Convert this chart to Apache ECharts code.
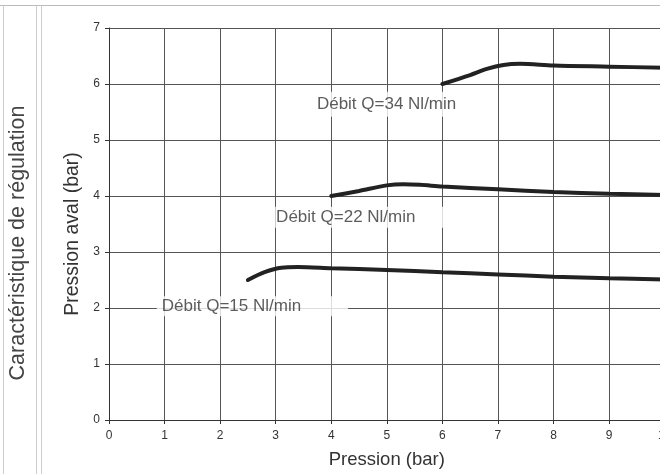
<!DOCTYPE html>
<html>
<head>
<meta charset="utf-8">
<script src="https://cdn.jsdelivr.net/npm/echarts@6/dist/echarts.min.js"></script>
<style>
  html, body { margin: 0; padding: 0; background: #fff; overflow: hidden; }
  #chart { width: 680px; height: 474px; }
</style>
</head>
<body>
<div id="chart"></div>
<script>
// Upstream pressure (bar) and regulated downstream pressure (bar) per flow rate
const q15Pressure = [2.5, 2.8, 3.1, 3.4, 4, 5, 6, 7, 8, 9, 10];
const q15Outlet   = [2.5, 2.64, 2.72, 2.73, 2.71, 2.68, 2.64, 2.6, 2.56, 2.53, 2.51];

const q22Pressure = [4, 4.5, 5, 5.3, 5.6, 6, 7, 8, 9, 10];
const q22Outlet   = [4.0, 4.09, 4.19, 4.21, 4.2, 4.17, 4.12, 4.07, 4.04, 4.02];

const q34Pressure = [6, 6.5, 6.8, 7.1, 7.4, 8, 9, 10];
const q34Outlet   = [6.0, 6.16, 6.27, 6.34, 6.36, 6.33, 6.31, 6.29];

const flowLabels = ['Débit Q=15 Nl/min', 'Débit Q=22 Nl/min', 'Débit Q=34 Nl/min'];

const xTicks = [0, 10, 1];   // min, max, step
const yTicks = [0, 7, 1];

const zip = (xs, ys) => xs.map((x, i) => [x, ys[i]]);

// where each flow caption box starts (data units) and its white box padding
const captionAnchors = [
  { at: [0.86, 2.03], pad: [2, 47, 1, 5] },
  { at: [2.99, 3.62], pad: [2, 56, 2, 1] },
  { at: [3.67, 5.64], pad: [4, 40, 4, 4] }
];

const chart = echarts.init(document.getElementById('chart'));

const curveStyle = { color: '#222', width: 4, cap: 'round' };
const curve = (data) => ({
  type: 'line', data, smooth: 0.3, showSymbol: false, symbol: 'none',
  lineStyle: curveStyle, z: 3, silent: true
});

const FONT = 'Liberation Sans';

chart.setOption({
  animation: false,
  backgroundColor: '#fff',
  grid: { left: 109, top: 28, right: 15.4, bottom: 52, containLabel: false },
  xAxis: {
    type: 'value', min: xTicks[0], max: xTicks[1], interval: xTicks[2],
    name: 'Pression (bar)', nameLocation: 'middle', nameGap: 30,
    nameTextStyle: { fontSize: 18.5, color: '#333', fontFamily: FONT },
    axisLine: { show: true, lineStyle: { color: '#333', width: 1 } },
    axisTick: { show: true, length: 4, lineStyle: { color: '#333' } },
    axisLabel: { fontSize: 12, color: '#333', margin: 10, fontFamily: FONT },
    splitLine: { show: true, lineStyle: { color: '#555', width: 1 } }
  },
  yAxis: {
    type: 'value', min: yTicks[0], max: yTicks[1], interval: yTicks[2],
    name: 'Pression aval (bar)', nameLocation: 'middle', nameGap: 24, nameRotate: 90,
    nameTextStyle: { fontSize: 19.5, color: '#333', fontFamily: FONT, padding: [0, 20, 0, 0] },
    axisLine: { show: true, lineStyle: { color: '#333', width: 1 } },
    axisTick: { show: true, length: 4, lineStyle: { color: '#333' } },
    axisLabel: { fontSize: 12, color: '#333', margin: 9, fontFamily: FONT },
    splitLine: { show: true, lineStyle: { color: '#555', width: 1 } }
  },
  series: [
    curve(zip(q15Pressure, q15Outlet)),
    curve(zip(q22Pressure, q22Outlet)),
    curve(zip(q34Pressure, q34Outlet)),
    {
      type: 'scatter', symbolSize: 0, z: 5, silent: true,
      data: captionAnchors.map((c, i) => ({
        value: c.at,
        label: {
          show: true, position: 'right', distance: 0,
          formatter: flowLabels[i],
          fontSize: 17, color: '#333', fontFamily: FONT,
          backgroundColor: '#fff', padding: c.pad
        }
      }))
    }
  ],
  graphic: [
    { type: 'line', shape: { x1: 0, y1: 5.5, x2: 680, y2: 5.5 }, style: { stroke: '#bbb', lineWidth: 1 } },
    { type: 'line', shape: { x1: 3.5, y1: 5.5, x2: 3.5, y2: 474 }, style: { stroke: '#ccc', lineWidth: 1 } },
    { type: 'line', shape: { x1: 36.5, y1: 5.5, x2: 36.5, y2: 474 }, style: { stroke: '#ccc', lineWidth: 1 } },
    { type: 'line', shape: { x1: 41.5, y1: 5.5, x2: 41.5, y2: 474 }, style: { stroke: '#ccc', lineWidth: 1 } },
    {
      type: 'text', x: 18.5, y: 243, rotation: Math.PI / 2,
      style: {
        text: 'Caractéristique de régulation', fontSize: 21.5, fill: '#444',
        fontFamily: FONT, align: 'center', verticalAlign: 'middle'
      }
    }
  ]
});
</script>
</body>
</html>
